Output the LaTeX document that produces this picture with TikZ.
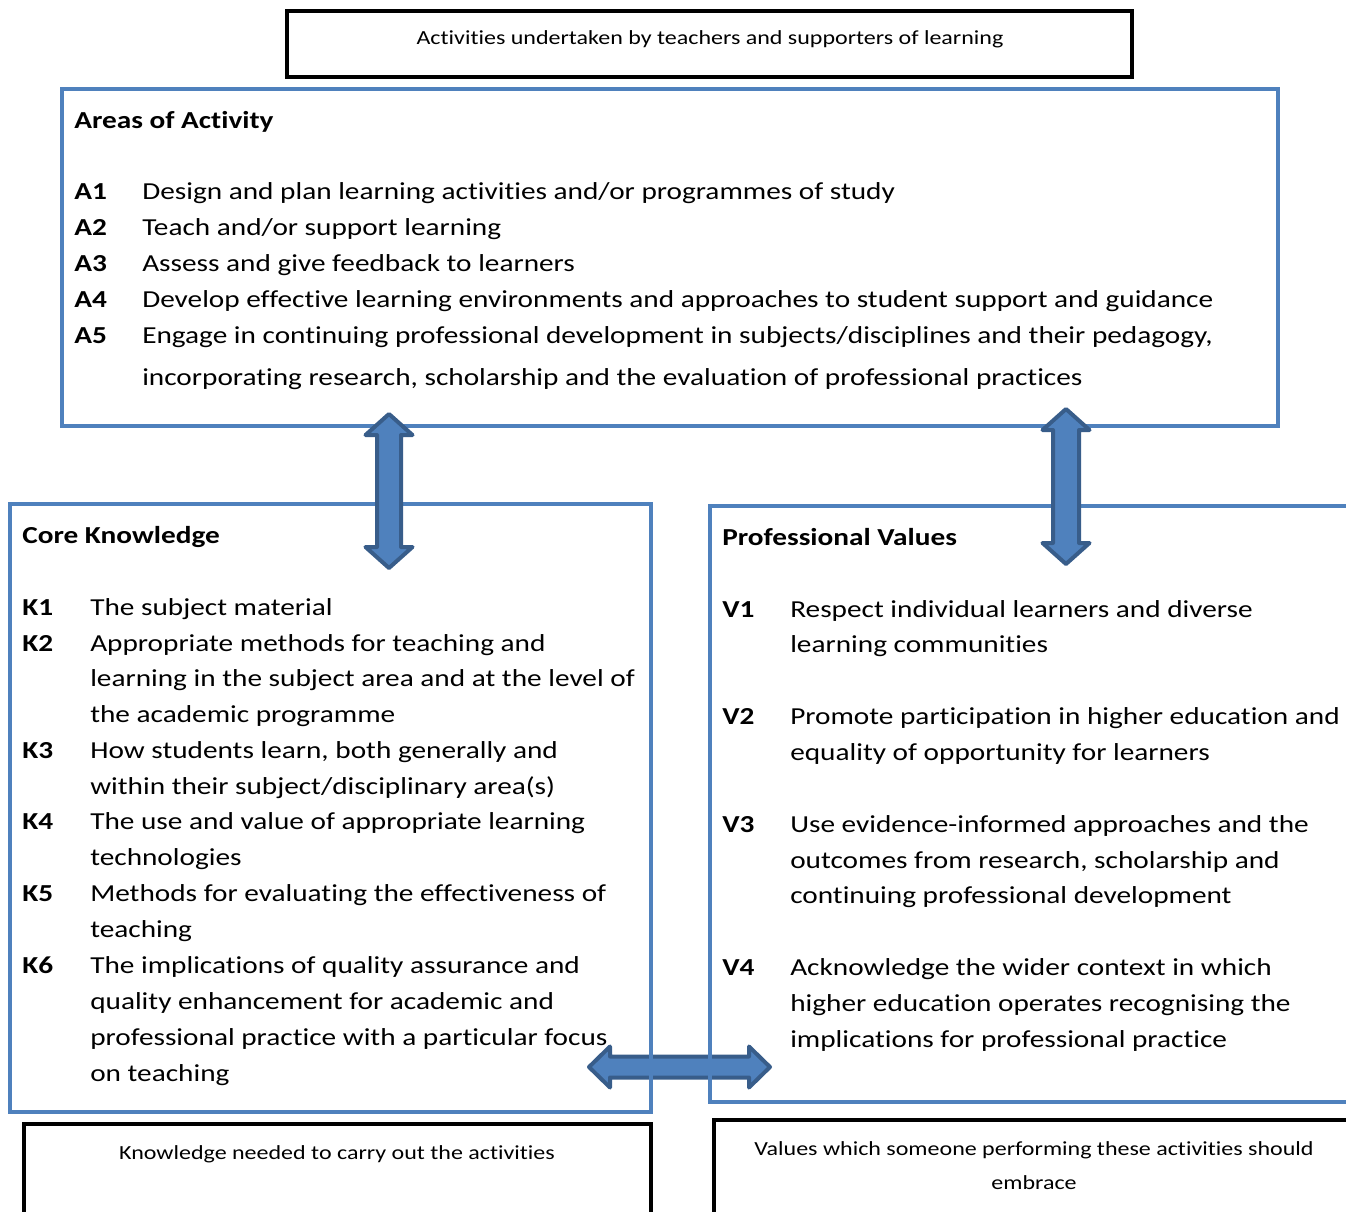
\documentclass[tikz,border=0pt]{standalone}
\usepackage{fontspec}
\setmainfont{Carlito}[Ligatures=NoCommon]
\usetikzlibrary{positioning}

\definecolor{boxblue}{RGB}{79,129,189}
\definecolor{arrowedge}{RGB}{56,93,138}

\newcommand{\wide}[1]{\scalebox{1.2}[1]{#1}}

\tikzset{
  bluebox/.style={draw=boxblue, line width=3.5pt},
  blackbox/.style={draw=black, line width=2.5pt},
  blockarrow/.style={fill=boxblue, draw=arrowedge, line width=3pt, line join=round},
  itemtext/.style={anchor=base west, inner sep=0pt, font=\fontsize{18.3}{22}\selectfont},
  itemlabel/.style={anchor=base west, inner sep=0pt, font=\fontsize{18.3}{22}\selectfont\bfseries},
  notetext/.style={anchor=base, inner sep=0pt, font=\fontsize{15}{19}\selectfont},
}

% block arrows: centre, first tip, second tip, shaft half width, head half width
\newcommand{\vertarrow}[5]{%
  \draw[blockarrow] (#1,#2) -- (#1+#5,#2+21) -- (#1+#4,#2+21) -- (#1+#4,#3-21)
    -- (#1+#5,#3-21) -- (#1,#3) -- (#1-#5,#3-21) -- (#1-#4,#3-21)
    -- (#1-#4,#2+21) -- (#1-#5,#2+21) -- cycle;}
\newcommand{\horzarrow}[5]{%
  \draw[blockarrow] (#2,#1) -- (#2+21,#1-#5) -- (#2+21,#1-#4) -- (#3-21,#1-#4)
    -- (#3-21,#1-#5) -- (#3,#1) -- (#3-21,#1+#5) -- (#3-21,#1+#4)
    -- (#2+21,#1+#4) -- (#2+21,#1+#5) -- cycle;}

\begin{document}
\begin{tikzpicture}[x=0.75pt, y=-0.75pt]
        \useasboundingbox[fill=white] (0,0) rectangle (1346,1211);

        % link between the two lower boxes
        \horzarrow{1067}{589}{770}{10.5}{20.5}

        % Boxes
        \draw[blackbox] (287,11) rectangle (1132,77);
        \draw[bluebox] (62,89) rectangle (1278,426);
        \draw[bluebox] (10,504) rectangle (651,1112);
        \draw[bluebox] (710,506) rectangle (1380,1102);
        \draw[blackbox] (24,1124) rectangle (651,1260);
        \draw[blackbox] (714,1120) rectangle (1380,1260);

        % links to the areas of activity
        \vertarrow{389}{414}{568}{12}{23.5}
        \vertarrow{1066}{409}{564}{13}{23.5}

        % Notes
        \node[notetext] (activitiesnote) at (710,44) {\wide{Activities undertaken by teachers and supporters of learning}};
        \node[notetext] (knowledgenote) at (337,1159) {\wide{Knowledge needed to carry out the activities}};
        \node[notetext] (valuesnote) at (1034,1155) {\wide{Values which someone performing these activities should}};
        \node[notetext] (valuesnotetwo) at (1034,1189) {\wide{embrace}};

        % Areas of Activity
        \node[itemlabel] (areastitle) at (74,128) {\wide{Areas of Activity}};
        \foreach \y/\lab [count=\i] in {199/A1, 235/A2, 271/A3, 307/A4, 343/A5}
          \node[itemlabel] (alab\i) at (74,\y) {\wide{\lab}};
        \foreach \y/\txt [count=\i] in {
            199/{Design and plan learning activities and/or programmes of study},
            235/{Teach and/or support learning},
            271/{Assess and give feedback to learners},
            307/{Develop effective learning environments and approaches to student support and guidance},
            343/{Engage in continuing professional development in subjects/disciplines and their pedagogy,},
            385/{incorporating research, scholarship and the evaluation of professional practices}}
          \node[itemtext] (aline\i) at (142,\y) {\wide{\txt}};

        % Core Knowledge
        \node[itemlabel] (coretitle) at (22,543) {\wide{Core Knowledge}};
        \foreach \y/\lab [count=\i] in {615/K1, 651/K2, 758/K3, 829/K4, 901/K5, 973/K6}
          \node[itemlabel] (klab\i) at (22,\y) {\wide{\lab}};
        \foreach \y/\txt [count=\i] in {
            615/{The subject material},
            651/{Appropriate methods for teaching and},
            686/{learning in the subject area and at the level of},
            722/{the academic programme},
            758/{How students learn, both generally and},
            794/{within their subject/disciplinary area(s)},
            829/{The use and value of appropriate learning},
            865/{technologies},
            901/{Methods for evaluating the effectiveness of},
            937/{teaching},
            973/{The implications of quality assurance and},
            1009/{quality enhancement for academic and},
            1045/{professional practice with a particular focus},
            1081/{on teaching}}
          \node[itemtext] (kline\i) at (90,\y) {\wide{\txt}};

        % Professional Values
        \node[itemlabel] (valuestitle) at (722,545) {\wide{Professional Values}};
        \foreach \y/\lab [count=\i] in {617/V1, 724/V2, 832/V3, 975/V4}
          \node[itemlabel] (vlab\i) at (722,\y) {\wide{\lab}};
        \foreach \y/\txt [count=\i] in {
            617/{Respect individual learners and diverse},
            652/{learning communities},
            724/{Promote participation in higher education and},
            760/{equality of opportunity for learners},
            832/{Use evidence-informed approaches and the},
            868/{outcomes from research, scholarship and},
            903/{continuing professional development},
            975/{Acknowledge the wider context in which},
            1011/{higher education operates recognising the},
            1047/{implications for professional practice}}
          \node[itemtext] (vline\i) at (790,\y) {\wide{\txt}};
\end{tikzpicture}
\end{document}
